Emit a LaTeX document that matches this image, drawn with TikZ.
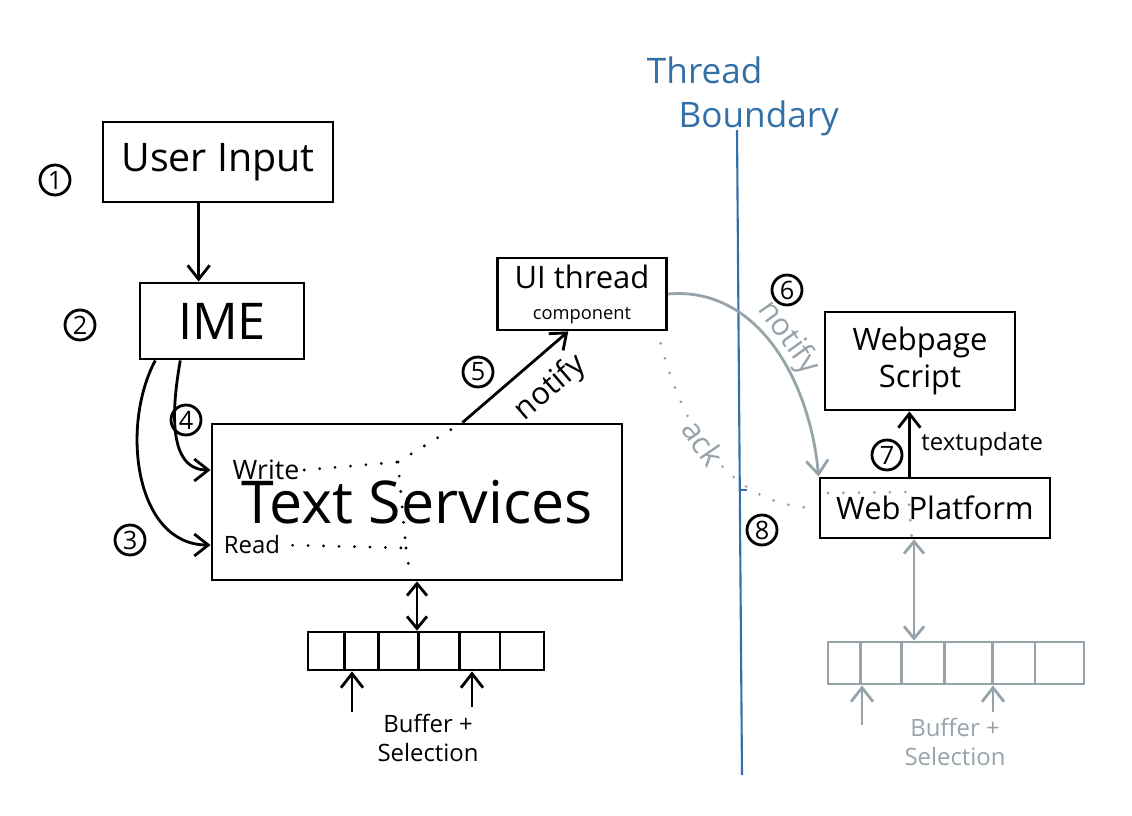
\documentclass[tikz,border=0pt]{standalone}
\usepackage{fontspec}
\setmainfont{Open Sans}
\usetikzlibrary{arrows.meta,calc,positioning}

\definecolor{sketchgray}{RGB}{150,164,170}
\definecolor{sketchblue}{RGB}{52,112,168}

\tikzset{
  box/.style={draw, line width=2pt, inner sep=0pt},
  num/.style={draw, circle, line width=2pt, inner sep=1pt, minimum size=0.75cm,
    font=\fontsize{18}{18}\selectfont},
  arr/.style={line width=2pt, -{Straight Barb[length=3.5mm,width=5.5mm]}},
  dblarr/.style={line width=2pt, {Straight Barb[length=3mm,width=5mm]}-{Straight Barb[length=3mm,width=5mm]}},
  dotline/.style={line width=2.2pt, line cap=round, dash pattern=on 0pt off 11pt},
  ghost/.style={sketchgray},
  hugefont/.style={font=\fontsize{42}{46}\selectfont},
  bigfont/.style={font=\fontsize{28}{32}\selectfont},
  midfont/.style={font=\fontsize{22}{26}\selectfont},
  smallfont/.style={font=\fontsize{17}{20}\selectfont}
}

\begin{document}
\begin{tikzpicture}[x=0.025cm, y=-0.025cm]
\useasboundingbox (0,0) rectangle (1132,816);

% ----- UI thread side -----
\node[box, bigfont, minimum width=5.75cm, minimum height=2cm] (user) at (218,162) {User Input};
\node[box, font=\fontsize{36}{40}\selectfont, minimum width=4.1cm, minimum height=1.9cm] (ime) at (222,321) {IME};
\node[box, hugefont, minimum width=10.25cm, minimum height=3.9cm] (ts) at (417,502) {Text Services};
\node[font=\fontsize{19}{22}\selectfont] (wr) at (266,470) {Write};
\node[smallfont] (rd) at (252,545) {Read};
\node[box, align=center, midfont, minimum width=4.22cm, minimum height=1.8cm] (ui) at (582,294)
  {UI thread\\[-4pt]{\fontsize{13}{14}\selectfont component}};

\node[num] (n1) at (55,180) {1};
\node[num] (n2) at (80,325) {2};
\node[num] (n3) at (130,540) {3};
\node[num] (n4) at (186,420) {4};
\node[num] (n5) at (478,372) {5};

\coordinate (imetop) at ($(ime.north west)!0.36!(ime.north east)$);
\draw[arr] (imetop |- user.south) -- (imetop);
\draw[arr] ($(ime.south west)!0.25!(ime.south east)$) to[out=-100, in=180] (ts.west |- wr);
\draw[arr] ($(ime.south west)!0.1!(ime.south east)$) to[out=-118, in=180] (ts.west |- rd);
\coordinate (tstop) at ($(ts.north west)!0.61!(ts.north east)$);
\draw[arr] (tstop) -- ($(ui.south west)!0.42!(ui.south east)$)
  node[pos=0.64, sloped, below=7pt, midfont] {notify};

% dotted region in text services
\coordinate (tcorner) at (398,462);
\coordinate (bcorner) at (406,548);
\draw[dotline] (wr.east) -- (tcorner) -- (bcorner) -- (rd.east);
\draw[dotline] (tcorner) -- (tstop);
\draw[dotline] (bcorner) -- (410,575);

% buffer
\node[box, minimum width=5.9cm, minimum height=0.95cm] (buf) at (426,651) {};
\foreach \f in {0.16,0.3,0.47,0.64,0.81}
  \draw[line width=2pt] ($(buf.north west)!\f!(buf.north east)$) -- ($(buf.south west)!\f!(buf.south east)$);
\draw[dblarr] (ts.south) -- (ts.south |- buf.north);
\node[smallfont, align=center] (buflbl) at (428,738) {Buffer +\\Selection};
\coordinate (sel1) at (352,712);
\coordinate (sel2) at (472,707);
\draw[arr] (sel1) -- (sel1 |- buf.south);
\draw[arr] (sel2) -- (sel2 |- buf.south);

% ----- thread boundary -----
\draw[sketchblue, line width=1.5pt] (737,130) -- (742,775);
\draw[sketchblue, line width=1.5pt] (740,490) -- (747,490);
\node[sketchblue, font=\fontsize{25}{31}\selectfont, align=left, anchor=north west] (tb) at (642,52)
  {Thread\\\hspace*{0.9em}Boundary};

% ----- web side -----
\node[box, align=center, midfont, minimum width=4.75cm, minimum height=2.45cm] (wps) at (920,361) {Webpage\\Script};
\node[box, midfont, minimum width=5.75cm, minimum height=1.5cm] (wp) at (935,508) {Web Platform};

\node[num] (n6) at (787,290) {6};
\node[num] (n7) at (887,455) {7};
\node[num] (n8) at (762,530) {8};

\draw[arr, ghost] (ui.east) to[out=5, in=95]
  node[pos=0.5, sloped, above, midfont, inner sep=0pt] {notify} (wp.north west);
\draw[dotline, ghost] ([xshift=-0.18cm, yshift=-0.3cm]ui.south east) to[out=-75, in=180]
  node[pos=0.42, sloped, midfont, fill=white, inner sep=1pt] {ack} (wp.west);
\draw[dotline, ghost] (828,493) -- (908,492) -- (912,540);

\coordinate (wptop) at ($(wp.north west)!0.39!(wp.north east)$);
\draw[arr] (wptop) -- (wptop |- wps.south)
  node[midway, right, smallfont, xshift=0.15cm] {textupdate};

% gray buffer
\node[box, ghost, minimum width=6.4cm, minimum height=1.05cm] (gbuf) at (956,663) {};
\foreach \f in {0.13,0.29,0.455,0.64,0.805}
  \draw[line width=2pt, ghost] ($(gbuf.north west)!\f!(gbuf.north east)$) -- ($(gbuf.south west)!\f!(gbuf.south east)$);
\coordinate (wpbot) at ($(wp.south west)!0.41!(wp.south east)$);
\draw[dblarr, ghost] (wpbot) -- (wpbot |- gbuf.north);
\node[smallfont, ghost, align=center] (gbuflbl) at (955,742) {Buffer +\\Selection};
\coordinate (gsel1) at (862,725);
\coordinate (gsel2) at (993,712);
\draw[arr, ghost] (gsel1) -- (gsel1 |- gbuf.south);
\draw[arr, ghost] (gsel2) -- (gsel2 |- gbuf.south);

\end{tikzpicture}
\end{document}
